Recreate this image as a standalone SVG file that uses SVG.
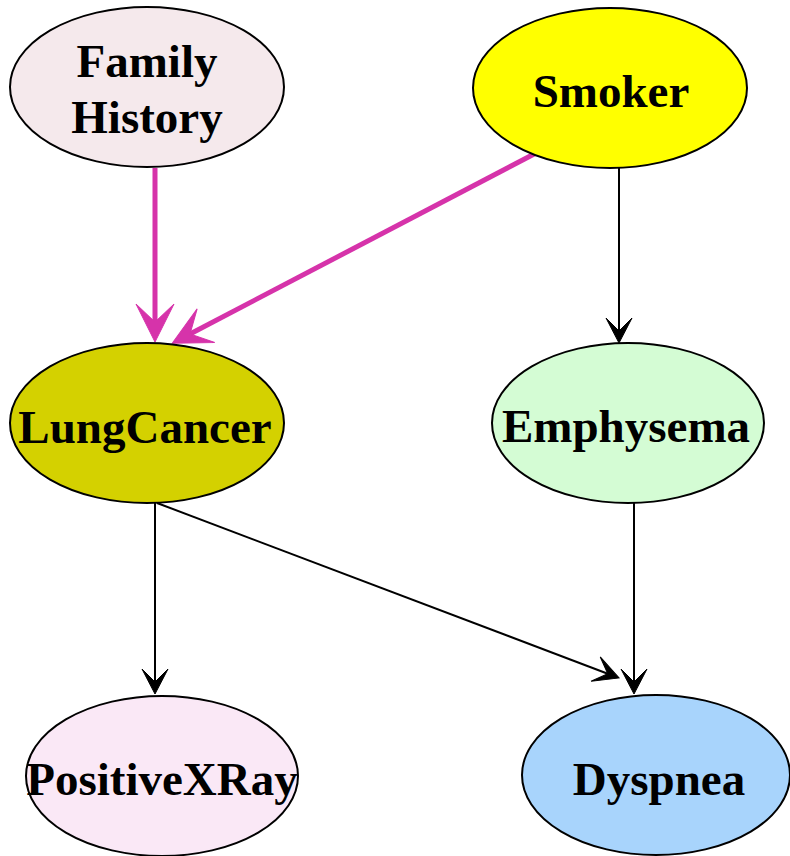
<svg xmlns="http://www.w3.org/2000/svg" width="790" height="856" viewBox="0 0 790 856">
  <style>
    .node ellipse { stroke: #000; stroke-width: 2; }
    .node text { font-family: "Liberation Serif", "Times New Roman", serif; font-weight: bold; font-size: 47px; fill: #000; text-anchor: middle; }
    .edge-black { stroke: #000; stroke-width: 2; fill: none; marker-end: url(#veeBlack); }
    .edge-mag { stroke: #d633aa; stroke-width: 5; fill: none; marker-end: url(#veeMag); }
  </style>
  <defs>
    <marker id="veeBlack" markerUnits="userSpaceOnUse" orient="auto" refX="0" refY="0" markerWidth="1" markerHeight="1" overflow="visible">
      <path d="M12,0 L-13,-13 L0,0 L-13,13 Z" fill="#000" stroke="#000" stroke-width="1"/>
    </marker>
    <marker id="veeMag" markerUnits="userSpaceOnUse" orient="auto" refX="0" refY="0" markerWidth="1" markerHeight="1" overflow="visible">
      <path d="M20,0 L-18,-19 L0,0 L-18,19 Z" fill="#d633aa" stroke="#d633aa" stroke-width="1"/>
    </marker>
  </defs>
  <rect width="790" height="856" fill="#fff"/>
  <g id="connectors">
    <line class="edge-mag" x1="155" y1="168" x2="155" y2="322"/>
    <line class="edge-mag" x1="538" y1="152" x2="190" y2="334"/>
    <line class="edge-black" x1="619" y1="168" x2="619" y2="331"/>
    <line class="edge-black" x1="155" y1="503" x2="155" y2="682"/>
    <line class="edge-black" x1="634" y1="503" x2="634" y2="682"/>
    <line class="edge-black" x1="157" y1="503" x2="607.8" y2="673.7"/>
  </g>
  <g id="family-history" class="node">
    <ellipse cx="147" cy="87" rx="137" ry="80" fill="#f5e9ec"/>
    <text x="147" y="77">Family</text>
    <text x="147" y="133">History</text>
  </g>
  <g id="smoker" class="node">
    <ellipse cx="610" cy="88" rx="137" ry="80" fill="#ffff00"/>
    <text x="611" y="107">Smoker</text>
  </g>
  <g id="lung-cancer" class="node">
    <ellipse cx="147" cy="423" rx="137" ry="80" fill="#d4d100"/>
    <text x="145" y="443">LungCancer</text>
  </g>
  <g id="emphysema" class="node">
    <ellipse cx="628" cy="423" rx="136" ry="80" fill="#d4fcd4"/>
    <text x="626" y="442">Emphysema</text>
  </g>
  <g id="positive-xray" class="node">
    <ellipse cx="162" cy="776" rx="136" ry="80" fill="#fae8f6"/>
    <text x="162" y="795">PositiveXRay</text>
  </g>
  <g id="dyspnea" class="node">
    <ellipse cx="656" cy="775" rx="134" ry="80" fill="#a8d4fc"/>
    <text x="659" y="795">Dyspnea</text>
  </g>
</svg>
